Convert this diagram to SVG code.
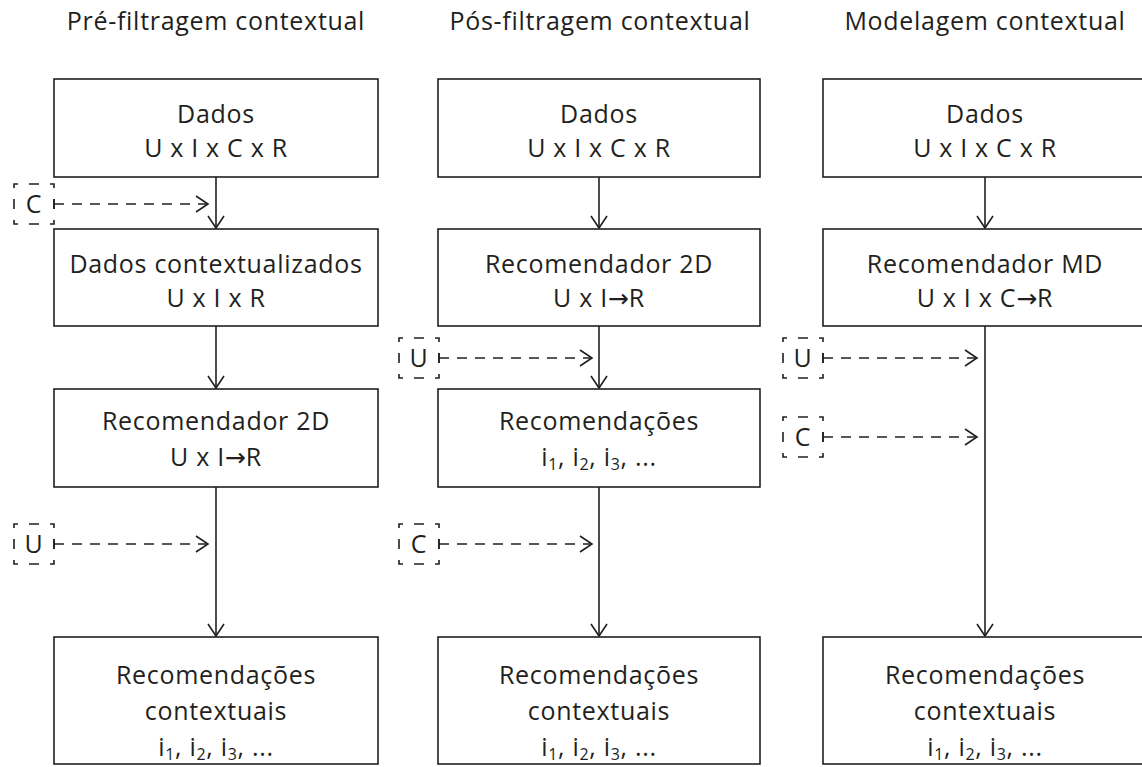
<svg xmlns="http://www.w3.org/2000/svg" width="1142" height="767" viewBox="0 0 1142 767">
<style>
text{font-family:"Open Sans","Noto Sans","Liberation Sans",sans-serif;font-size:25px;letter-spacing:0.7px;fill:#231f20;text-anchor:middle}
.arr{font-family:"DejaVu Sans",sans-serif;letter-spacing:0}
.box{fill:#fff;stroke:#231f20;stroke-width:1.6}
.dbox{fill:none;stroke:#231f20;stroke-width:1.6;stroke-dasharray:8 11 10 11;stroke-dashoffset:4}
.solid{fill:none;stroke:#231f20;stroke-width:1.6}
.dash{fill:none;stroke:#231f20;stroke-width:1.6;stroke-dasharray:10 8}
.sub{font-size:16px}
</style>
<defs>
<marker id="ah" markerUnits="userSpaceOnUse" markerWidth="16" markerHeight="20" refX="13" refY="9" orient="auto" viewBox="0 0 16 20">
<path d="M1,1 L13,9 L1,17" fill="none" stroke="#231f20" stroke-width="1.6"/>
</marker>
</defs>

<g id="titles">
<text x="216" y="30">Pré-filtragem contextual</text>
<text x="600" y="30">Pós-filtragem contextual</text>
<text x="985" y="30">Modelagem contextual</text>
</g>

<g id="connectors">
<line class="solid" x1="216" y1="177" x2="216" y2="228" marker-end="url(#ah)"/>
<line class="solid" x1="216" y1="326" x2="216" y2="388" marker-end="url(#ah)"/>
<line class="solid" x1="216" y1="487" x2="216" y2="636" marker-end="url(#ah)"/>
<line class="solid" x1="599" y1="177" x2="599" y2="228" marker-end="url(#ah)"/>
<line class="solid" x1="599" y1="326" x2="599" y2="388" marker-end="url(#ah)"/>
<line class="solid" x1="599" y1="487" x2="599" y2="636" marker-end="url(#ah)"/>
<line class="solid" x1="985" y1="177" x2="985" y2="228" marker-end="url(#ah)"/>
<line class="solid" x1="985" y1="326" x2="985" y2="636" marker-end="url(#ah)"/>
<path class="solid" d="M54,199 V209 M439,353 V363 M439,539 V549 M54,539 V549 M823,353 V363 M823,432 V442"/>
<line class="dash" x1="54" y1="204" x2="208" y2="204" marker-end="url(#ah)"/>
<line class="dash" x1="54" y1="544" x2="208" y2="544" marker-end="url(#ah)"/>
<line class="dash" x1="439" y1="358" x2="592" y2="358" marker-end="url(#ah)"/>
<line class="dash" x1="439" y1="544" x2="592" y2="544" marker-end="url(#ah)"/>
<line class="dash" x1="823" y1="358" x2="977" y2="358" marker-end="url(#ah)"/>
<line class="dash" x1="823" y1="437" x2="977" y2="437" marker-end="url(#ah)"/>
</g>

<g id="pre-dados">
<rect class="box" x="54" y="79" width="324" height="98"/>
<text x="216" y="123">Dados</text>
<text x="216" y="157">U x I x C x R</text>
</g>
<g id="pre-ctx">
<rect class="box" x="54" y="229" width="324" height="97"/>
<text x="216" y="273">Dados contextualizados</text>
<text x="216" y="307">U x I x R</text>
</g>
<g id="pre-rec2d">
<rect class="box" x="54" y="389" width="324" height="98"/>
<text x="216" y="430">Recomendador 2D</text>
<text x="216" y="466">U x I<tspan class="arr">→</tspan>R</text>
</g>
<g id="pre-out">
<rect class="box" x="54" y="637" width="324" height="127"/>
<text x="216" y="684">Recomendações</text>
<text x="216" y="720">contextuais</text>
<text x="216" y="756">i<tspan class="sub" dy="4">1</tspan><tspan dy="-4">, i</tspan><tspan class="sub" dy="4">2</tspan><tspan dy="-4">, i</tspan><tspan class="sub" dy="4">3</tspan><tspan dy="-4">, ...</tspan></text>
</g>
<g id="pre-C">
<rect class="dbox" x="14" y="184" width="40" height="40"/>
<text x="34" y="213">C</text>
</g>
<g id="pre-U">
<rect class="dbox" x="14" y="524" width="40" height="40"/>
<text x="34" y="553">U</text>
</g>

<g id="pos-dados">
<rect class="box" x="438" y="79" width="322" height="98"/>
<text x="599" y="123">Dados</text>
<text x="599" y="157">U x I x C x R</text>
</g>
<g id="pos-rec2d">
<rect class="box" x="438" y="229" width="322" height="97"/>
<text x="599" y="273">Recomendador 2D</text>
<text x="599" y="307">U x I<tspan class="arr">→</tspan>R</text>
</g>
<g id="pos-recs">
<rect class="box" x="438" y="389" width="322" height="98"/>
<text x="599" y="430">Recomendações</text>
<text x="599" y="466">i<tspan class="sub" dy="4">1</tspan><tspan dy="-4">, i</tspan><tspan class="sub" dy="4">2</tspan><tspan dy="-4">, i</tspan><tspan class="sub" dy="4">3</tspan><tspan dy="-4">, ...</tspan></text>
</g>
<g id="pos-out">
<rect class="box" x="438" y="637" width="322" height="127"/>
<text x="599" y="684">Recomendações</text>
<text x="599" y="720">contextuais</text>
<text x="599" y="756">i<tspan class="sub" dy="4">1</tspan><tspan dy="-4">, i</tspan><tspan class="sub" dy="4">2</tspan><tspan dy="-4">, i</tspan><tspan class="sub" dy="4">3</tspan><tspan dy="-4">, ...</tspan></text>
</g>
<g id="pos-U">
<rect class="dbox" x="399" y="338" width="40" height="40"/>
<text x="419" y="367">U</text>
</g>
<g id="pos-C">
<rect class="dbox" x="399" y="524" width="40" height="40"/>
<text x="419" y="553">C</text>
</g>

<g id="mod-dados">
<rect class="box" x="823" y="79" width="324" height="98"/>
<text x="985" y="123">Dados</text>
<text x="985" y="157">U x I x C x R</text>
</g>
<g id="mod-recmd">
<rect class="box" x="823" y="229" width="324" height="97"/>
<text x="985" y="273">Recomendador MD</text>
<text x="985" y="307">U x I x C<tspan class="arr">→</tspan>R</text>
</g>
<g id="mod-out">
<rect class="box" x="823" y="637" width="324" height="127"/>
<text x="985" y="684">Recomendações</text>
<text x="985" y="720">contextuais</text>
<text x="985" y="756">i<tspan class="sub" dy="4">1</tspan><tspan dy="-4">, i</tspan><tspan class="sub" dy="4">2</tspan><tspan dy="-4">, i</tspan><tspan class="sub" dy="4">3</tspan><tspan dy="-4">, ...</tspan></text>
</g>
<g id="mod-U">
<rect class="dbox" x="783" y="338" width="40" height="40"/>
<text x="803" y="367">U</text>
</g>
<g id="mod-C">
<rect class="dbox" x="783" y="417" width="40" height="40"/>
<text x="803" y="446">C</text>
</g>
</svg>
